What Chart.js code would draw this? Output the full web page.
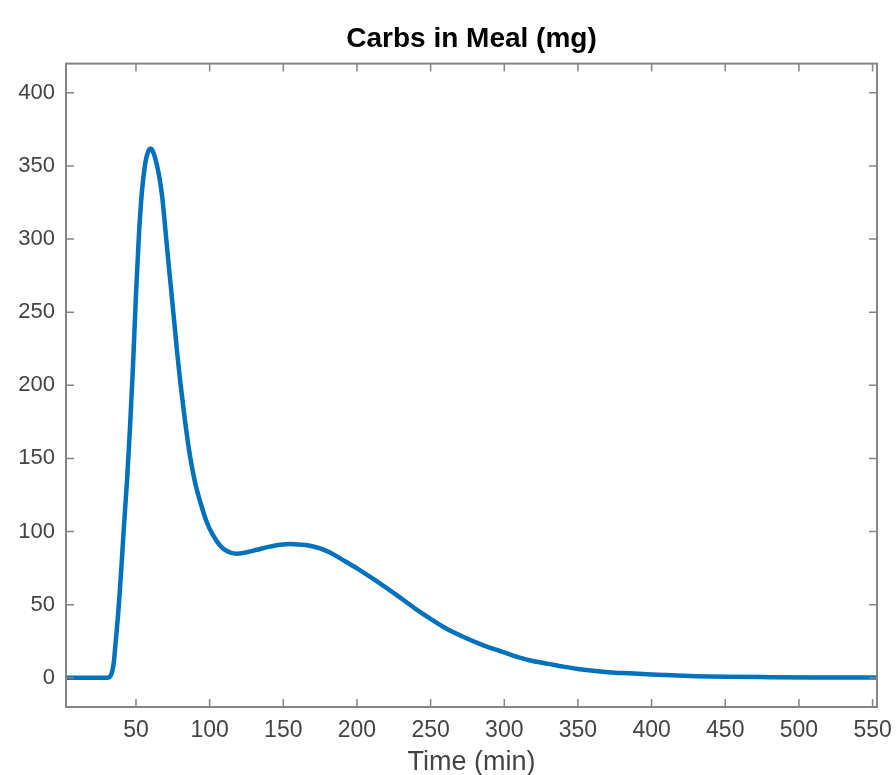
<!DOCTYPE html>
<html>
<head>
<meta charset="utf-8">
<style>
  html, body { margin: 0; padding: 0; background: #ffffff; }
  #wrap { width: 896px; height: 775px; }
</style>
<script src="https://cdn.jsdelivr.net/npm/chart.js@4.4.1/dist/chart.umd.min.js"></script>
</head>
<body>
<div id="wrap"><canvas id="c" width="896" height="775"></canvas></div>
<script>
// ---- data ----
const timeMin = [2.5, 30, 31, 32, 33, 34, 35, 36, 37, 38, 39, 40, 41, 42, 43, 44, 46, 48, 50, 52,
  54, 56, 57, 58, 59, 60, 61, 62, 63, 64, 65, 66, 67, 68, 69, 70, 72, 74, 76, 78, 80,
  83, 86, 90, 94, 98, 102, 107, 112, 118, 125, 132, 140, 148, 155, 162, 168, 175, 182, 190, 200,
  210, 220, 227, 240, 250, 260, 272, 285, 295, 305, 317, 330, 340, 350, 362, 375, 385, 400, 410, 430,
  450, 480, 510, 553];
const carbsMg = [0, 0, 0, 0.4, 1.8, 5, 11, 22, 33, 45, 59, 74, 90, 106, 121, 136, 172, 214, 262, 303,
  332, 350, 355.5, 359, 361.2, 362, 361, 358.5, 355.5, 351.5, 347, 341.5, 335, 327, 317, 306, 284.5, 264, 243, 222, 203,
  178, 156, 134, 119, 106.5, 98, 90.5, 86.5, 84.8, 85.8, 87.5, 89.5, 91, 91.5, 91, 90.3, 88.5, 85.5, 80.8, 74.8,
  68.3, 61.5, 56.5, 47, 40.3, 34, 28, 22.5, 19, 15.5, 12, 9.5, 7.6, 6, 4.6, 3.5, 3, 2.2, 1.8, 1.1,
  0.7, 0.4, 0.2, 0.1];
const xTickValues = [50, 100, 150, 200, 250, 300, 350, 400, 450, 500, 550];
const yTickValues = [0, 50, 100, 150, 200, 250, 300, 350, 400];
const xRange = [2.5, 553];
const yRange = [-20, 420];
const chartTitle = 'Carbs in Meal (mg)';
const xTitle = 'Time (min)';

const FONT = "'Liberation Sans', Arial, Helvetica, sans-serif";
const AXIS_COLOR = '#858585';
const TEXT_COLOR = '#444444';

const points = timeMin.map((t, i) => ({ x: t, y: carbsMg[i] }));

// frame box + inward ticks on all four sides (MATLAB style)
const boxPlugin = {
  id: 'boxTicks',
  afterDatasetsDraw(chart) {
    const { ctx, chartArea: a, scales } = chart;
    const tl = 8;
    ctx.save();
    ctx.strokeStyle = AXIS_COLOR;
    ctx.lineWidth = 1.5;
    ctx.beginPath();
    scales.x.ticks.forEach(tk => {
      const px = scales.x.getPixelForValue(tk.value);
      ctx.moveTo(px, a.bottom); ctx.lineTo(px, a.bottom - tl);
      ctx.moveTo(px, a.top); ctx.lineTo(px, a.top + tl);
    });
    scales.y.ticks.forEach(tk => {
      const py = scales.y.getPixelForValue(tk.value);
      ctx.moveTo(a.left, py); ctx.lineTo(a.left + tl, py);
      ctx.moveTo(a.right, py); ctx.lineTo(a.right - tl, py);
    });
    ctx.stroke();
    ctx.lineWidth = 2;
    ctx.strokeRect(a.left, a.top, a.right - a.left, a.bottom - a.top);
    ctx.restore();
  }
};

new Chart(document.getElementById('c'), {
  type: 'line',
  data: {
    datasets: [{
      data: points,
      borderColor: 'rgb(0,114,189)',
      borderWidth: 4.5,
      pointRadius: 0,
      fill: false,
      cubicInterpolationMode: 'monotone',
      clip: false
    }]
  },
  options: {
    responsive: false,
    animation: false,
    layout: { padding: { left: 0, right: 19, top: 0, bottom: 0 } },
    plugins: {
      legend: { display: false },
      tooltip: { enabled: false },
      title: {
        display: true,
        text: chartTitle,
        fullSize: false,
        color: '#000000',
        font: { family: FONT, size: 28, weight: 'bold', lineHeight: 1.2 },
        padding: { top: 22, bottom: 8 }
      }
    },
    scales: {
      x: {
        type: 'linear',
        min: xRange[0],
        max: xRange[1],
        afterBuildTicks: s => { s.ticks = xTickValues.map(v => ({ value: v })); },
        afterFit: s => { s.height = 68; s.paddingRight = 0; s.paddingLeft = 0; },
        grid: { display: false, drawTicks: false },
        border: { display: false },
        ticks: {
          color: TEXT_COLOR,
          font: { family: FONT, size: 23 },
          padding: 10,
          maxRotation: 0,
          autoSkip: false
        },
        title: {
          display: true,
          text: xTitle,
          color: TEXT_COLOR,
          font: { family: FONT, size: 27, lineHeight: 1 },
          padding: { top: 0, bottom: -1 }
        }
      },
      y: {
        type: 'linear',
        min: yRange[0],
        max: yRange[1],
        afterBuildTicks: s => { s.ticks = yTickValues.map(v => ({ value: v })); },
        afterFit: s => { s.width = 66; },
        grid: { display: false, drawTicks: false },
        border: { display: false },
        ticks: {
          color: TEXT_COLOR,
          font: { family: FONT, size: 22 },
          padding: 11,
          autoSkip: false
        }
      }
    }
  },
  plugins: [boxPlugin]
});
</script>
</body>
</html>
